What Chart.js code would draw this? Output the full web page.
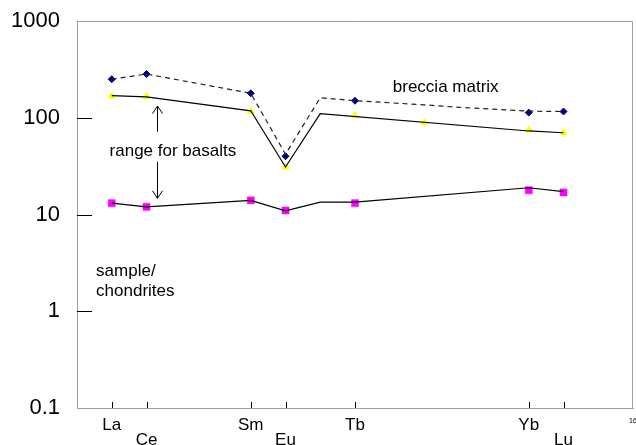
<!DOCTYPE html>
<html><head><meta charset="utf-8">
<script src="https://cdn.jsdelivr.net/npm/chart.js@4"></script>
<style>html,body{margin:0;padding:0;background:#fff}</style>
</head><body>
<canvas id="c" width="636" height="445"></canvas>
<script>
// REE order positions (Pm omitted): La=1, Ce=2, Pr=3, Nd=4, Sm=5, Eu=6, Gd=7, Tb=8, Dy=9, Ho=10, Er=11, Tm=12, Yb=13, Lu=14
const elements = ['La','Ce','Sm','Eu','Tb','Yb','Lu'];
const elementPos = [1,2,5,6,8,13,14];
const labelRow = [0,1,0,1,0,0,1];
const xMax = 16;
const yTicks = [0.1,1,10,100,1000];
const yMarkTicks = [1,10,100];

const brecciaX = [1,2,5,6,8,13,14];
const brecciaVals = [250,283,179,40,150,113,116];
const brecciaLineX = [1,2,5,6,7,8,10,11,13,14];
const brecciaLineVals = [250,283,179,42,161,150,136,128,117,116];

const basaltHighX = [1,2,5,6,8,10,13,14];
const basaltHighVals = [168,166,117,31,105,89,75,70];
const basaltHighLineX = [1,2,5,6,7,13,14];
const basaltHighLineVals = [169,164,118,31,110,73,70];

const basaltLowX = [1,2,5,6,8,13,14];
const basaltLowVals = [13.1,12.0,14.0,11.0,13.1,17.8,16.9];
const basaltLowLineX = [1,2,5,6,7,8,13,14];
const basaltLowLineVals = [13.1,12.0,14.0,10.9,13.4,13.4,18.9,17.2];

const notes = [
  {text:'range for basalts', x:2.76, y:44.6, align:'center'},
  {text:'breccia matrix', x:10.61, y:206, align:'center'},
  {text:'sample/', x:0.55, y:2.56, align:'left'},
  {text:'chondrites', x:0.55, y:1.59, align:'left'}
];
const arrows = [
  {x:2.29, from:71.7, to:132},
  {x:2.29, from:35.1, to:14.7}
];

const zip = (xs, ys) => xs.map((x,i)=>({x:x, y:ys[i]}));
const FONT = 'Liberation Sans, Arial, sans-serif';

const deco = {
  id:'deco',
  afterDraw(chart){
    const {ctx, chartArea:a, scales:{x, y}} = chart;
    ctx.save();
    ctx.strokeStyle = '#a0a0a0'; ctx.lineWidth = 1;
    ctx.beginPath();
    ctx.moveTo(a.left, a.top + 0.5);
    ctx.lineTo(a.right - 0.5, a.top + 0.5);
    ctx.lineTo(a.right - 0.5, a.bottom);
    ctx.stroke();
    ctx.strokeStyle = '#000';
    yMarkTicks.forEach(v => {
      const py = Math.round(y.getPixelForValue(v)) + 0.5;
      ctx.beginPath(); ctx.moveTo(a.left, py); ctx.lineTo(a.left + 15, py); ctx.stroke();
    });
    elementPos.forEach(v => {
      const px = Math.round(x.getPixelForValue(v)) + 0.5;
      ctx.beginPath(); ctx.moveTo(px, a.bottom); ctx.lineTo(px, a.bottom - 6); ctx.stroke();
    });
    ctx.fillStyle = '#000';
    ctx.font = '17px ' + FONT;
    ctx.textBaseline = 'middle';
    notes.forEach(n => {
      ctx.textAlign = n.align;
      ctx.fillText(n.text, x.getPixelForValue(n.x), y.getPixelForValue(n.y));
    });
    arrows.forEach(ar => {
      const px = Math.round(x.getPixelForValue(ar.x)) + 0.5;
      const p0 = y.getPixelForValue(ar.from), p1 = y.getPixelForValue(ar.to);
      const dir = p1 < p0 ? 1 : -1;
      ctx.beginPath();
      ctx.moveTo(px, p0); ctx.lineTo(px, p1);
      ctx.moveTo(px - 5, p1 + dir * 7.5); ctx.lineTo(px, p1); ctx.lineTo(px + 5, p1 + dir * 7.5);
      ctx.stroke();
    });
    ctx.restore();
  }
};

new Chart(document.getElementById('c'), {
  type:'scatter',
  data:{datasets:[
    {data:zip(brecciaLineX, brecciaLineVals), showLine:true, borderColor:'#222', borderWidth:1.2, borderDash:[5,4], pointRadius:0, fill:false},
    {data:zip(basaltHighLineX, basaltHighLineVals), showLine:true, borderColor:'#000', borderWidth:1.2, pointRadius:0, fill:false},
    {data:zip(basaltLowLineX, basaltLowLineVals), showLine:true, borderColor:'#000', borderWidth:1.2, pointRadius:0, fill:false},
    {data:zip(brecciaX, brecciaVals), showLine:false, pointStyle:'rectRot', pointRadius:3.5, backgroundColor:'#000080', borderColor:'#000080', borderWidth:1},
    {data:zip(basaltHighX, basaltHighVals), showLine:false, pointStyle:'triangle', pointRadius:4, backgroundColor:'#ffff00', borderColor:'#ffff00', borderWidth:1},
    {data:zip(basaltLowX, basaltLowVals), showLine:false, pointStyle:'rect', pointRadius:5, backgroundColor:'#ff00ff', borderColor:'#ff00ff', borderWidth:0.5}
  ]},
  options:{
    responsive:false, animation:false, devicePixelRatio:1,
    layout:{autoPadding:false, padding:{top:21, right:3, left:0, bottom:0}},
    plugins:{legend:{display:false}, tooltip:{enabled:false}},
    scales:{
      x:{
        type:'linear', min:0, max:xMax,
        afterBuildTicks: s => { s.ticks = elementPos.concat([xMax]).map(v => ({value:v})); },
        afterFit: s => { s.height = 37; s.paddingLeft = 0; s.paddingRight = 0; },
        grid:{display:false, drawTicks:false},
        border:{display:true, color:'#a0a0a0', width:1},
        ticks:{
          autoSkip:false, maxRotation:0, padding:10, color:'#000',
          font: c => (c.tick && c.tick.value === xMax) ? {family:FONT, size:7, lineHeight:0.9} : {family:FONT, size:17, lineHeight:0.88},
          callback: v => {
            const i = elementPos.indexOf(v);
            if (i < 0) return v === xMax ? String(v) : '';
            return labelRow[i] ? ['', elements[i]] : elements[i];
          }
        }
      },
      y:{
        type:'logarithmic', min:0.1, max:1000,
        afterBuildTicks: s => { s.ticks = yTicks.map(v => ({value:v})); },
        afterFit: s => { s.width = 77; s.paddingTop = 0; s.paddingBottom = 0; },
        grid:{display:false, drawTicks:false},
        border:{display:true, color:'#a0a0a0', width:1},
        ticks:{color:'#000', padding:17, font:{family:FONT, size:22}, callback: v => String(v)}
      }
    }
  },
  plugins:[deco]
});
</script>
</body></html>
